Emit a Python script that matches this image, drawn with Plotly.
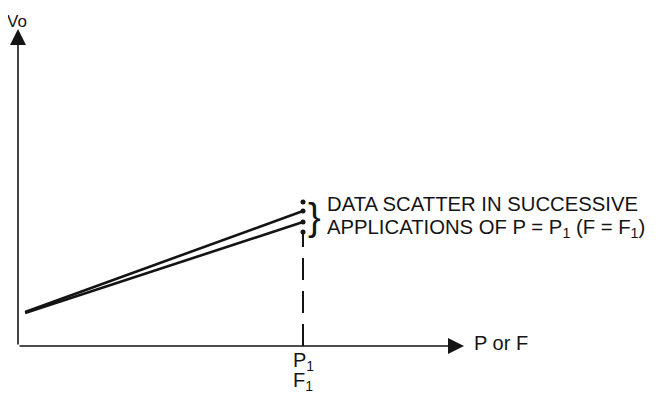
"""
Schematic: output Vo against applied P (or F), showing scatter at P = P1.
"""
import plotly.graph_objects as go

# Data (schematic units)
P_START = 0.025
P1 = 1.0
p_vals = [P_START, P1]
vo_run_upper = [0.34, 1.35]
vo_run_lower = [0.33, 1.24]
scatter_vo = [1.44, 1.35, 1.24, 1.14]   # repeated readings at P = P1
dash_bottom = 0.0

# the page body has an 8px margin, so the ranges are shifted to suit
X_RANGE = [-0.0351, 2.2737]
Y_RANGE = [-0.55, 3.38]
INK = "#141414"
FONT = "Liberation Sans, Arial, sans-serif"

fig = go.Figure()

# the two response lines
for vo in (vo_run_upper, vo_run_lower):
    fig.add_trace(go.Scatter(
        x=p_vals, y=vo, mode="lines",
        line=dict(color=INK, width=2.6),
        showlegend=False, hoverinfo="skip",
    ))

# dashed drop line from the scatter down to the P axis
fig.add_trace(go.Scatter(
    x=[P1, P1], y=[dash_bottom, scatter_vo[-1]], mode="lines",
    line=dict(color=INK, width=2, dash="22px,11px"),
    showlegend=False, hoverinfo="skip",
))

# scatter dots
fig.add_trace(go.Scatter(
    x=[P1] * len(scatter_vo), y=scatter_vo, mode="markers",
    marker=dict(color=INK, size=5),
    showlegend=False, hoverinfo="skip",
))

# axes with arrow heads
fig.add_annotation(x=1.565, y=0, ax=0, ay=0, xref="x", yref="y",
                   axref="x", ayref="y", text="", showarrow=True,
                   arrowhead=2, arrowsize=2, arrowwidth=1.6, arrowcolor=INK)
fig.add_annotation(x=0, y=3.17, ax=0, ay=0, xref="x", yref="y",
                   axref="x", ayref="y", text="", showarrow=True,
                   arrowhead=2, arrowsize=2, arrowwidth=1.6, arrowcolor=INK)


def label(x, y, text, size, anchor="center"):
    fig.add_annotation(x=x, y=y, text=text, xanchor=anchor, yanchor="middle",
                       showarrow=False, xref="x", yref="y",
                       font=dict(family=FONT, color=INK, size=size))


label(-0.004, 3.25, "Vo", 17)
label(1.593, 0.03, "P or F", 20, "left")
label(P1, -0.15, "P<sub>1</sub>", 20)
label(P1, -0.355, "F<sub>1</sub>", 20)
label(1.042, 1.29, "}", 38)
label(1.077, 1.42, "DATA SCATTER IN SUCCESSIVE", 20.3, "left")
label(1.077, 1.18, "APPLICATIONS OF P = P<sub>1</sub> (F = F<sub>1</sub>)", 20.3, "left")

fig.update_layout(
    width=658, height=393,
    margin=dict(l=0, r=0, t=0, b=0, pad=0, autoexpand=False),
    paper_bgcolor="white", plot_bgcolor="white",
    xaxis=dict(range=X_RANGE, visible=False, fixedrange=True),
    yaxis=dict(range=Y_RANGE, visible=False, fixedrange=True),
)

fig.write_html("out.html")
